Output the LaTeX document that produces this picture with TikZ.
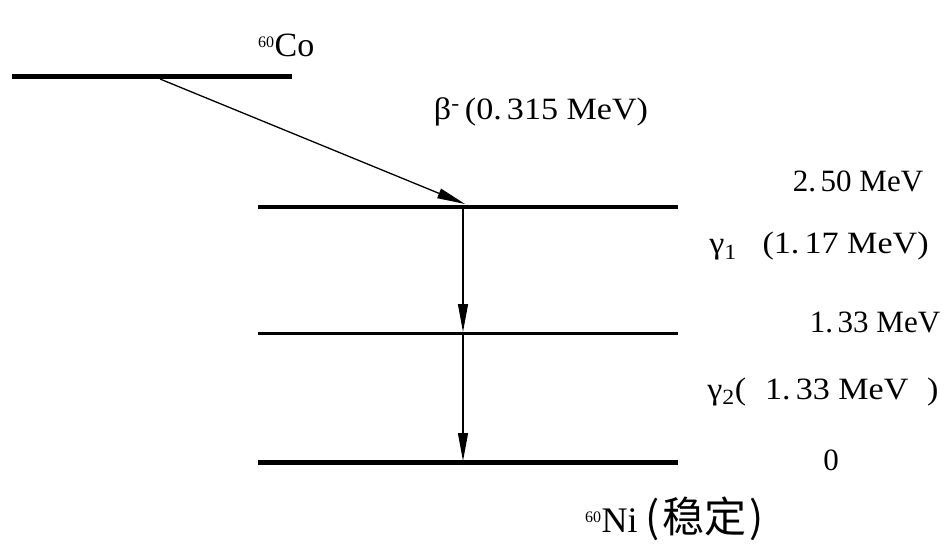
\documentclass[tikz,border=0pt]{standalone}
\usepackage{fontspec}
\usepackage{graphicx}
\setmainfont{Liberation Serif}
\newfontfamily\cjk{Noto Sans CJK SC}
\usetikzlibrary{arrows.meta}
\newcommand\mlab[2]{\scalebox{#1}[1.0]{\fontsize{31}{36}\selectfont #2}}
\newcommand\dt{.\kern.15em}
\begin{document}
\begin{tikzpicture}[x=1pt,y=-1pt,
  level/.style={line width=#1,line cap=butt},
  trans/.style={line width=1.3pt,-{Triangle[length=28pt,width=10pt]}},
  lbl/.style={inner sep=0pt,anchor=base}]
\useasboundingbox (0,0) rectangle (950,545);
% levels
\coordinate (co1) at (12,77);   \coordinate (co2) at (292,77);
\coordinate (a1) at (258,207);  \coordinate (a2) at (678,207);
\coordinate (b1) at (258,333);  \coordinate (b2) at (678,333);
\coordinate (c1) at (258,462);  \coordinate (c2) at (678,462);
\draw[level=5pt] (co1) -- (co2);
\draw[level=4pt] (a1) -- (a2);
\draw[level=3pt] (b1) -- (b2);
\draw[level=5pt] (c1) -- (c2);
% transitions
\coordinate (bs) at (160,79);
\coordinate (be) at (465,204);
\coordinate (g1s) at (463,209);
\coordinate (g1e) at (463,332);
\coordinate (g2s) at (463,335);
\coordinate (g2e) at (463,461);
\draw[trans] (bs) -- (be);
\draw[trans] (g1s) -- (g1e);
\draw[trans] (g2s) -- (g2e);
% labels
\node[lbl,anchor=base west] (co) at (258,57) {\fontsize{34}{40}\selectfont\textsuperscript{\fontsize{16}{16}\selectfont 60}Co};
\node[lbl] (beta) at (541,120) {\mlab{1.1}{β\textsuperscript{-}\kern.15em(0\dt 315 MeV)}};
\node[lbl] (e250) at (858,192) {\mlab{1.0}{2\dt 50 MeV}};
\node[lbl] (g1) at (819,254) {\mlab{1.1}{γ\textsubscript{1}\ \ \ (1\dt 17 MeV)}};
\node[lbl] (e133) at (875,332) {\mlab{1.0}{1\dt 33 MeV}};
\node[lbl] (g2) at (823,399) {\mlab{1.1}{γ\textsubscript{2}(\kern.3em\ 1\dt 33 MeV \kern.3em)}};
\node[lbl] (e0) at (831,470) {\mlab{1.0}{0}};
\node[lbl,anchor=base west] (ni) at (585,532) {\fontsize{36}{40}\selectfont\textsuperscript{\fontsize{16}{16}\selectfont 60}Ni\kern8pt{\cjk\fontsize{42}{46}\selectfont (\kern3pt 稳定\kern3pt)}};
\end{tikzpicture}
\end{document}
